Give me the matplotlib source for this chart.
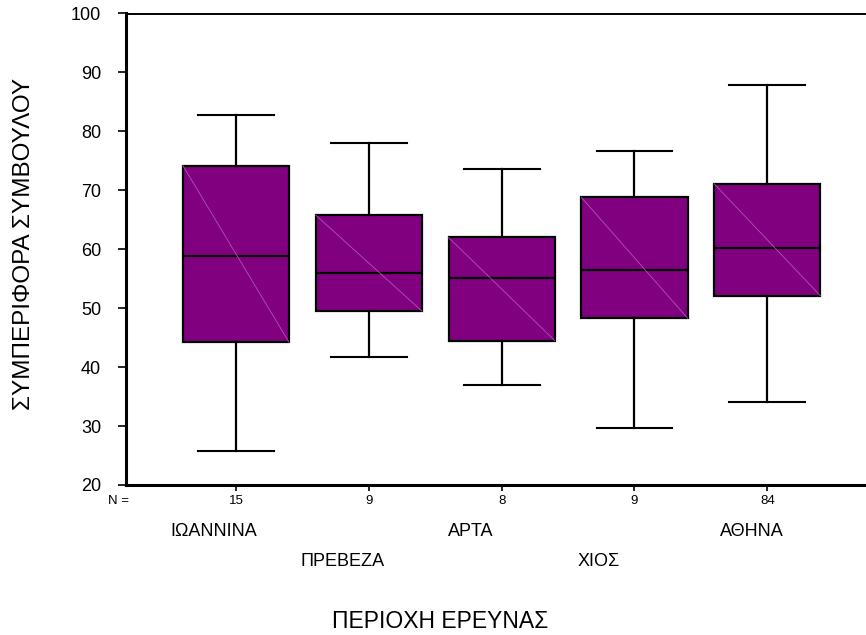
import matplotlib
matplotlib.use('Agg')
import matplotlib.pyplot as plt

plt.rcParams['font.family'] = ['Liberation Sans', 'DejaVu Sans']

# five-number summaries per region
regions = ['ΙΩΑΝΝΙΝΑ', 'ΠΡΕΒΕΖΑ', 'ΑΡΤΑ', 'ΧΙΟΣ', 'ΑΘΗΝΑ']
n_cases = [15, 9, 8, 9, 84]
whis_lo = [25.8, 41.8, 37.0, 29.6, 34.0]
q1 = [44.2, 49.5, 44.5, 48.3, 52.1]
medians = [58.8, 56.0, 55.2, 56.4, 60.2]
q3 = [74.2, 65.8, 62.0, 68.8, 71.1]
whis_hi = [82.8, 78.1, 73.6, 76.6, 87.9]

# label placement: horizontal shift and staggered row
label_shift = [-0.17, -0.20, -0.23, -0.27, -0.12]
label_row = [0, 1, 0, 1, 0]

purple = '#800080'

fig = plt.figure(figsize=(8.66, 6.35), dpi=100)
ax = fig.add_axes([126 / 866, 1 - 485 / 635, 1 - 126 / 866, (485 - 13.5) / 635])

stats = []
for i in range(len(regions)):
    stats.append({'med': medians[i], 'q1': q1[i], 'q3': q3[i],
                  'whislo': whis_lo[i], 'whishi': whis_hi[i], 'fliers': []})

pos = list(range(1, len(regions) + 1))
bw = 0.80
ax.bxp(stats, positions=pos, widths=bw, capwidths=0.57, patch_artist=True,
       showfliers=False,
       boxprops=dict(facecolor=purple, edgecolor='black', linewidth=1.6),
       medianprops=dict(color='black', linewidth=1.6),
       whiskerprops=dict(color='black', linewidth=1.6),
       capprops=dict(color='black', linewidth=1.5))

# faint diagonal across each box
for p, lo, hi in zip(pos, q1, q3):
    ax.plot([p - bw / 2, p + bw / 2], [hi, lo], color='#b055b0', lw=0.6, zorder=3)

ax.set_ylim(20, 100)
ax.set_xlim(0.172, 5.743)
ax.set_yticks(range(20, 101, 10))
ax.tick_params(axis='y', length=6, width=1.2, pad=12, labelsize=13)
ax.set_xticks(pos)
ax.set_xticklabels(n_cases)
ax.tick_params(axis='x', length=4, width=1.2, pad=3, labelsize=9.5)

ax.spines['right'].set_visible(False)
ax.spines['left'].set_linewidth(2.2)
ax.spines['bottom'].set_linewidth(2.2)
ax.spines['top'].set_linewidth(1.4)

tr = ax.get_xaxis_transform()
ax.text(-0.01, -0.034, 'N =', transform=ax.transAxes, ha='center', va='center', fontsize=9.5)
row_y = [-0.099, -0.163]
for p, name, dx, r in zip(pos, regions, label_shift, label_row):
    ax.text(p + dx, row_y[r], name, transform=tr, ha='center', va='center', fontsize=13)

fig.text(440 / 866, 1 - 621 / 635, 'ΠΕΡΙΟΧΗ ΕΡΕΥΝΑΣ', ha='center', va='center', fontsize=16.5)
fig.text(24 / 866, 1 - 244 / 635, 'ΣΥΜΠΕΡΙΦΟΡΑ ΣΥΜΒΟΥΛΟΥ', ha='center', va='center',
         rotation=90, fontsize=17.5)

fig.savefig('out.png', dpi=100)
